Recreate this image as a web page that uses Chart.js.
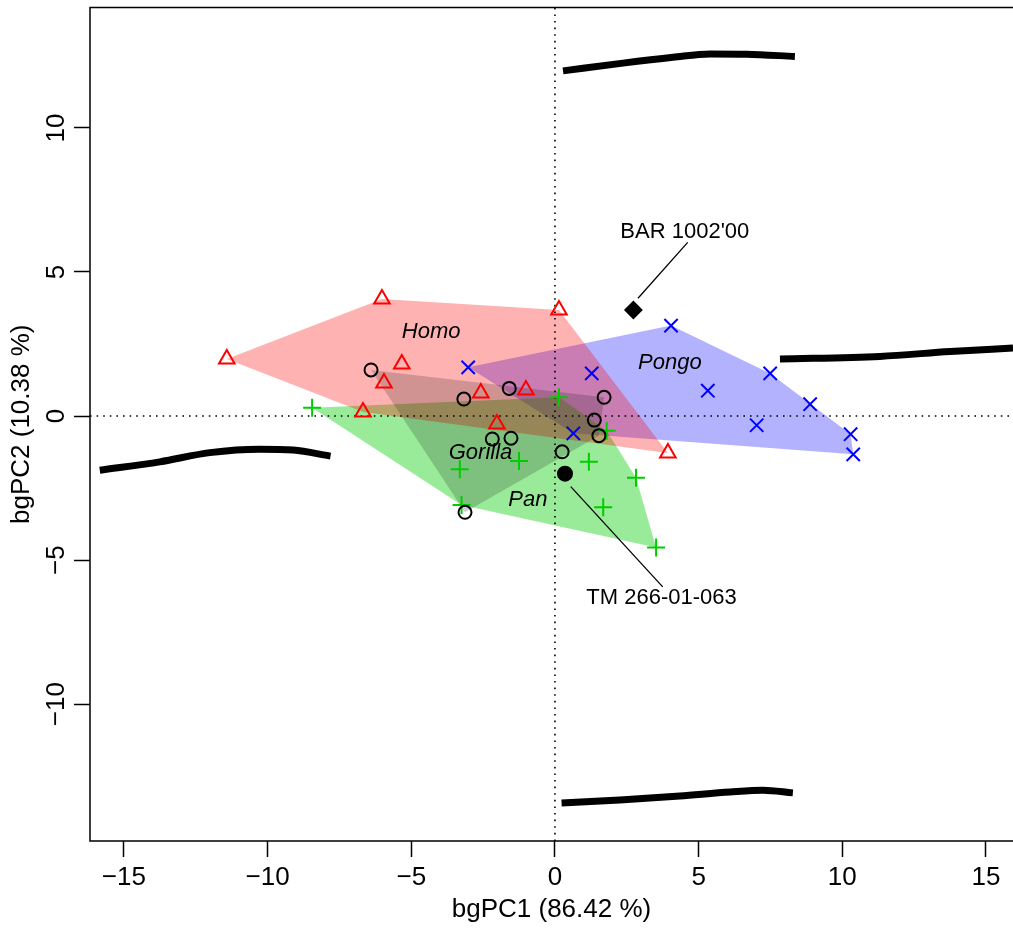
<!DOCTYPE html>
<html><head><meta charset="utf-8">
<script src="https://cdn.jsdelivr.net/npm/chart.js@4.4.1/dist/chart.umd.min.js"></script>
<style>html,body{margin:0;padding:0;background:#fff}#wrap{width:1013px;height:928px}</style>
</head><body><div id="wrap"><canvas id="c" width="1013" height="928"></canvas></div>
<script>
// ---------- data ----------
const xTicks = [-15, -10, -5, 0, 5, 10, 15];
const yTicks = [-10, -5, 0, 5, 10];
const xTitle = 'bgPC1 (86.42 %)';
const yTitle = 'bgPC2 (10.38 %)';

const homoX = [-11.42, -6.02, 0.14, -5.33, -5.95, -2.58, -1.01, -6.68, -2.02, 3.93];
const homoY = [1.98, 4.06, 3.68, 1.81, 1.15, 0.80, 0.90, 0.14, -0.28, -1.28];

const pongoX = [-3.02, 1.28, 0.64, 4.04, 5.32, 7.49, 8.88, 7.02, 10.29, 10.38];
const pongoY = [1.69, 1.48, -0.60, 3.14, 0.88, 1.48, 0.41, -0.32, -0.63, -1.33];

const gorillaX = [-6.40, -3.17, -1.59, 1.71, 1.37, 1.53, -2.18, -1.53, 0.25, -3.13];
const gorillaY = [1.60, 0.59, 0.96, 0.65, -0.14, -0.68, -0.80, -0.77, -1.24, -3.34];

const panX = [-8.45, 0.14, 1.80, -1.25, -3.31, 1.18, 2.82, 1.68, -3.25, 3.52];
const panY = [0.29, 0.65, -0.51, -1.56, -1.85, -1.59, -2.14, -3.17, -3.09, -4.56];

const barPoint = [2.73, 3.68];
const tmPoint = [0.35, -2.00];

// thick outline curves at the four extremes
const topCurveX = [0.28, 2.37, 4.11, 5.40, 6.67, 8.35];
const topCurveY = [11.98, 12.25, 12.45, 12.57, 12.56, 12.48];
const botCurveX = [0.23, 2.26, 4.35, 6.09, 7.24, 8.28];
const botCurveY = [-13.43, -13.33, -13.19, -13.05, -12.99, -13.08];
const rightCurveX = [7.83, 11.31, 13.75, 15.94];
const rightCurveY = [1.98, 2.07, 2.24, 2.36];
const leftCurveX = [-15.84, -13.75, -12.01, -10.27, -9.11, -7.81];
const leftCurveY = [-1.88, -1.59, -1.27, -1.15, -1.18, -1.39];

// text labels (data coordinates)
const groupNames = ['Homo', 'Pongo', 'Gorilla', 'Pan'];
const groupLabelX = [-4.31, 4.00, -2.59, -0.94];
const groupLabelY = [2.92, 1.84, -1.28, -2.92];
const specNames = ["BAR 1002'00", 'TM 266-01-063'];
const specLabelX = [4.52, 3.71];
const specLabelY = [6.39, -6.30];
const leaderX = [[2.89, 4.62], [0.55, 3.75]];
const leaderY = [[4.09, 6.03], [-2.45, -5.93]];

const xRange = [-16.18, 15.94];
const yRange = [-14.75, 14.18];

// ---------- helpers ----------
const zip = (xs, ys) => xs.map((x, i) => ({x, y: ys[i]}));
function hull(xs, ys) {
  const p = zip(xs, ys).sort((a, b) => a.x - b.x || a.y - b.y);
  const cross = (o, a, b) => (a.x - o.x) * (b.y - o.y) - (a.y - o.y) * (b.x - o.x);
  const lo = [], up = [];
  for (const q of p) { while (lo.length >= 2 && cross(lo[lo.length-2], lo[lo.length-1], q) <= 0) lo.pop(); lo.push(q); }
  for (let i = p.length - 1; i >= 0; i--) { const q = p[i]; while (up.length >= 2 && cross(up[up.length-2], up[up.length-1], q) <= 0) up.pop(); up.push(q); }
  up.pop(); lo.pop();
  const h = lo.concat(up);
  h.push(h[0]);
  return h;
}
const fmt = v => (v < 0 ? '\u2212' + Math.abs(v) : String(v));
const FONT = '"Liberation Sans", Arial, Helvetica, sans-serif';

const polygon = (xs, ys, color) => ({
  type: 'line', data: hull(xs, ys), showLine: true, fill: 'shape',
  backgroundColor: color, borderWidth: 0, borderColor: 'rgba(0,0,0,0)',
  pointRadius: 0, tension: 0, order: 20
});
const curve = (xs, ys) => ({
  type: 'line', data: zip(xs, ys), showLine: true, fill: false,
  borderColor: '#000', borderWidth: 7, borderCapStyle: 'butt',
  pointRadius: 0, cubicInterpolationMode: 'monotone', order: 15
});
const seg = (xs, ys, dash, w) => ({
  type: 'line', data: zip(xs, ys), showLine: true, fill: false,
  borderColor: '#000', borderWidth: w, borderDash: dash,
  pointRadius: 0, tension: 0, order: 12
});
const pts = (xs, ys, style, r, color, fillc) => ({
  type: 'scatter', data: zip(xs, ys), showLine: false,
  pointStyle: style, pointRadius: r, pointHoverRadius: r,
  borderColor: color, backgroundColor: fillc || 'rgba(0,0,0,0)',
  pointBorderWidth: 2, order: 1
});

const datasets = [
  polygon(gorillaX, gorillaY, 'rgba(0,0,0,0.18)'),
  polygon(homoX, homoY, 'rgba(255,0,0,0.3)'),
  polygon(panX, panY, 'rgba(0,205,0,0.4)'),
  polygon(pongoX, pongoY, 'rgba(0,0,255,0.3)'),
  curve(topCurveX, topCurveY),
  curve(botCurveX, botCurveY),
  curve(rightCurveX, rightCurveY),
  curve(leftCurveX, leftCurveY),
  seg([0, 0], yRange, [1.6, 5], 1.6),
  seg(xRange, [0, 0], [1.6, 5], 1.6),
  seg(leaderX[0], leaderY[0], [], 1.3),
  seg(leaderX[1], leaderY[1], [], 1.3),
  pts(homoX, homoY, 'triangle', 9, '#ff0000'),
  pts(pongoX, pongoY, 'crossRot', 9.4, '#0000ff'),
  pts(gorillaX, gorillaY, 'circle', 6.5, '#000000'),
  pts(panX, panY, 'cross', 9, '#00cd00'),
  pts([barPoint[0]], [barPoint[1]], 'rectRot', 8, '#000', '#000'),
  pts([tmPoint[0]], [tmPoint[1]], 'circle', 7, '#000', '#000')
];

const overlay = {
  id: 'overlay',
  afterDraw(chart) {
    const ctx = chart.ctx, xs = chart.scales.x, ys = chart.scales.y, a = chart.chartArea;
    ctx.save();
    // y tick labels, parallel to axis
    ctx.font = '26px ' + FONT; ctx.fillStyle = '#000';
    ctx.textAlign = 'center'; ctx.textBaseline = 'middle';
    yTicks.forEach(v => {
      ctx.save(); ctx.translate(57, ys.getPixelForValue(v)); ctx.rotate(-Math.PI / 2);
      ctx.fillText(fmt(v), 0, 0); ctx.restore();
    });
    // group labels
    ctx.font = 'italic 22px ' + FONT;
    groupNames.forEach((n, i) => ctx.fillText(n, xs.getPixelForValue(groupLabelX[i]), ys.getPixelForValue(groupLabelY[i])));
    ctx.font = '22px ' + FONT;
    specNames.forEach((n, i) => ctx.fillText(n, xs.getPixelForValue(specLabelX[i]), ys.getPixelForValue(specLabelY[i])));
    // box (right side lies beyond the picture edge)
    ctx.strokeStyle = '#000'; ctx.lineWidth = 1.5;
    ctx.beginPath();
    ctx.moveTo(a.right + 2, a.top); ctx.lineTo(a.left, a.top);
    ctx.lineTo(a.left, a.bottom); ctx.lineTo(a.right + 2, a.bottom);
    ctx.stroke();
    ctx.restore();
  }
};

new Chart(document.getElementById('c'), {
  type: 'scatter',
  data: {datasets},
  options: {
    responsive: false, animation: false, devicePixelRatio: 1,
    layout: {autoPadding: false, padding: {top: 7.5, right: 0, left: 0, bottom: 0}},
    plugins: {legend: {display: false}, tooltip: {enabled: false}},
    scales: {
      x: {
        type: 'linear', min: xRange[0], max: xRange[1],
        afterBuildTicks: s => { s.ticks = xTicks.map(v => ({value: v})); },
        afterFit: s => { s.height = 87; s.paddingLeft = 0; s.paddingRight = 0; },
        grid: {display: true, drawOnChartArea: false, drawTicks: true, tickLength: 16, tickColor: '#000', tickWidth: 1.5},
        border: {display: false},
        ticks: {callback: v => fmt(v), color: '#000', font: {size: 26, family: FONT}, padding: 5, maxRotation: 0, autoSkip: false},
        title: {display: true, text: xTitle, color: '#000', font: {size: 26, family: FONT}, padding: {top: 0, bottom: 3}}
      },
      y: {
        type: 'linear', min: yRange[0], max: yRange[1],
        afterBuildTicks: s => { s.ticks = yTicks.map(v => ({value: v})); },
        afterFit: s => { s.width = 90; s.paddingTop = 0; s.paddingBottom = 0; },
        grid: {display: true, drawOnChartArea: false, drawTicks: true, tickLength: 16, tickColor: '#000', tickWidth: 1.5},
        border: {display: false},
        ticks: {display: false},
        title: {display: true, text: yTitle, color: '#000', font: {size: 26, family: FONT}, padding: {top: 6, bottom: 0}}
      }
    }
  },
  plugins: [overlay]
});
</script>
</body></html>
